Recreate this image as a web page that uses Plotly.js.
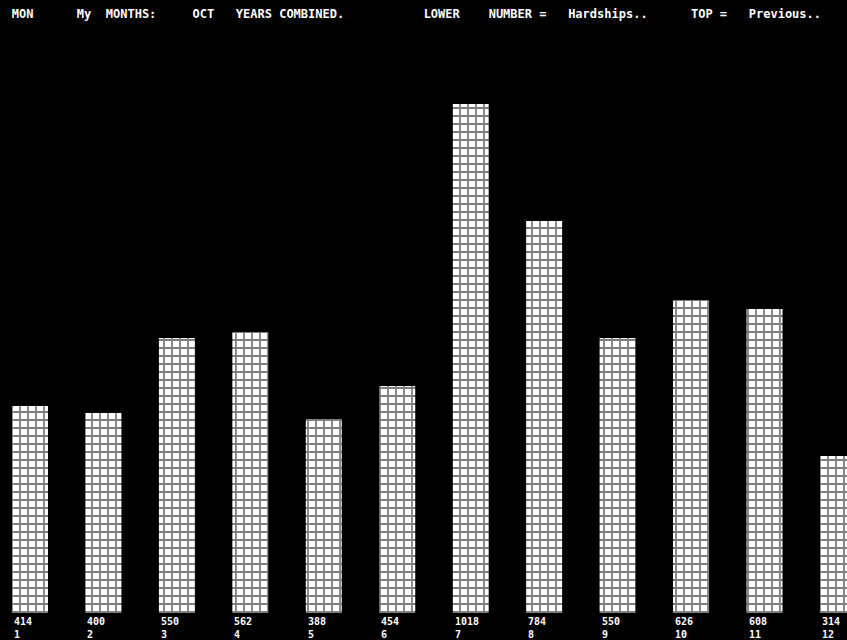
<!DOCTYPE html>
<html>
<head>
<meta charset="utf-8">
<script src="https://cdn.plot.ly/plotly-3.0.1.min.js"></script>
<style>html,body{margin:0;padding:0;background:#000;}#chart{width:847px;height:640px;}</style>
</head>
<body>
<div id="chart"></div>
<script>
// Data
var categories = [1, 2, 3, 4, 5, 6, 7, 8, 9, 10, 11, 12];
var values = [414, 400, 550, 562, 388, 454, 1018, 784, 550, 626, 608, 314];
var indexLabels = ["1", "2", "3", "4", "5", "6", "7", "8", "9", "10", "11", "12"];
var titleWords = ["MON", "My", "MONTHS:", "OCT", "YEARS", "COMBINED.", "LOWER", "NUMBER =", "Hardships..", "TOP =", "Previous.."];
var titleGaps = [6, 2, 5, 3, 1, 11, 4, 3, 6, 3];

var NB = "\u00A0";
var titleText = titleWords[0];
for (var i = 1; i < titleWords.length; i++) {
  titleText += NB.repeat(titleGaps[i - 1]) + titleWords[i];
}

var BAR_W = 0.49;

var trace = {
  type: "bar",
  x: categories,
  y: values,
  width: BAR_W,
  marker: {
    color: "#ffffff",
    line: {width: 0},
    pattern: {shape: "+", fgcolor: "#000000", bgcolor: "#ffffff", size: 8, solidity: 0.4, fillmode: "overlay"}
  },
  hoverinfo: "none"
};

var annotations = categories.map(function (c, i) {
  return {
    x: c - BAR_W / 2, xref: "x", xanchor: "left",
    y: 0, yref: "paper", yanchor: "top", yshift: -1,
    text: "<b>" + values[i] + "<br>" + indexLabels[i] + "</b>",
    align: "left", showarrow: false,
    font: {family: "DejaVu Sans Mono, monospace", size: 10, color: "#ffffff"}
  };
});

var layout = {
  width: 847,
  height: 640,
  paper_bgcolor: "#000000",
  plot_bgcolor: "#000000",
  margin: {l: 0, r: 0, t: 0, b: 27, pad: 0},
  showlegend: false,
  font: {family: "DejaVu Sans Mono, monospace", color: "#ffffff", size: 10},
  title: {
    text: "<b>" + titleText + "</b>",
    x: 0.014, xanchor: "left", xref: "container",
    y: 1 - 14 / 640, yanchor: "middle", yref: "container",
    font: {family: "DejaVu Sans Mono, monospace", size: 12, color: "#ffffff"}
  },
  annotations: annotations,
  xaxis: {
    range: [0.592, 12.123],
    showticklabels: false,
    ticks: "",
    showgrid: false,
    zeroline: false,
    showline: false,
    fixedrange: true
  },
  yaxis: {
    range: [0, 1226],
    showgrid: false,
    zeroline: false,
    showline: false,
    showticklabels: false,
    ticks: "",
    fixedrange: true
  }
};

Plotly.newPlot("chart", [trace], layout, {displayModeBar: false, staticPlot: true});
</script>
</body>
</html>
